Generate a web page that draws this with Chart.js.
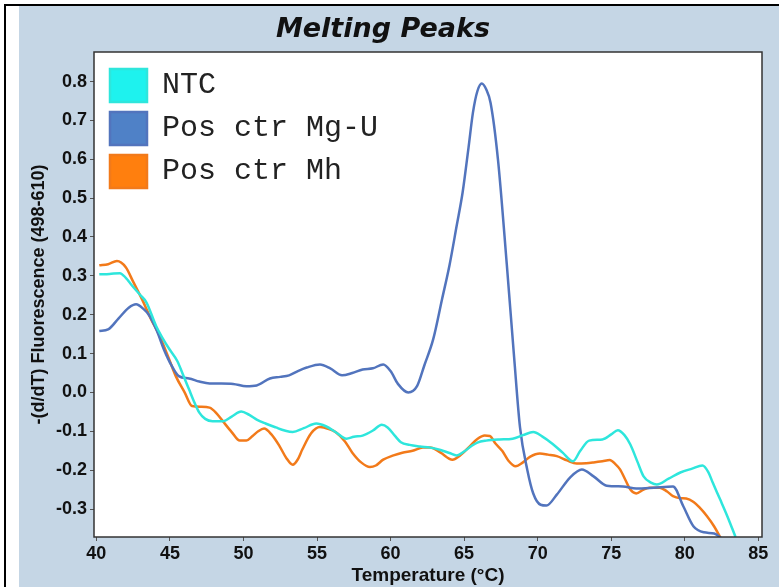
<!DOCTYPE html>
<html>
<head>
<meta charset="utf-8">
<script src="https://cdn.jsdelivr.net/npm/chart.js@4.4.1/dist/chart.umd.min.js"></script>
<style>
  body { margin: 0; background: #fff; }
  #frame {
    position: absolute; left: 4px; top: 4px; width: 775px; height: 583px;
    border-top: 2px solid #000; border-left: 2px solid #000;
  }
  #chart { position: absolute; left: 19px; top: 6px; background: #c5d6e5; }
</style>
</head>
<body>
<div id="frame"></div>
<canvas id="chart" width="760" height="581"></canvas>
<script>
const xTicks = [40, 45, 50, 55, 60, 65, 70, 75, 80, 85];
const yTicks = [-0.3, -0.2, -0.1, 0.0, 0.1, 0.2, 0.3, 0.4, 0.5, 0.6, 0.7, 0.8];

const ntcTemp = [40.2, 40.9, 41.6, 42.0, 42.45, 43.0, 43.4, 44.06, 44.5, 44.97, 45.5, 45.9, 46.3, 46.6, 47.0, 47.4, 47.9, 48.6, 49.2, 49.85,
  50.4, 50.9, 51.5, 52.2, 52.8, 53.35, 54.1, 54.95, 55.6, 56.3, 57.0, 57.5, 58.1, 58.8, 59.4, 59.8, 60.3, 60.7, 61.3, 62.0,
  62.7, 63.4, 64.0, 64.5, 65.0, 65.5, 65.9, 66.5, 67.4, 68.3, 69.0, 69.7, 70.3, 71.0, 71.7, 72.4, 72.9, 73.5, 74.4, 75.0,
  75.45, 75.9, 76.3, 76.8, 77.2, 77.7, 78.1, 78.9, 79.7, 80.5, 81.2, 81.6, 81.9, 82.4, 82.9, 83.45];
const ntcValues = [0.304, 0.305, 0.307, 0.295, 0.274, 0.25, 0.232, 0.171, 0.14, 0.111, 0.081, 0.045, 0.008, -0.02, -0.052, -0.068, -0.074, -0.074, -0.062, -0.049,
  -0.058, -0.07, -0.08, -0.09, -0.098, -0.102, -0.092, -0.08, -0.087, -0.103, -0.119, -0.114, -0.111, -0.098, -0.083, -0.09, -0.112, -0.128, -0.135, -0.139,
  -0.142, -0.148, -0.156, -0.162, -0.152, -0.138, -0.129, -0.124, -0.121, -0.119, -0.11, -0.102, -0.113, -0.132, -0.155, -0.177, -0.15, -0.124, -0.121, -0.108,
  -0.097, -0.11, -0.134, -0.18, -0.216, -0.232, -0.237, -0.222, -0.206, -0.196, -0.188, -0.205, -0.232, -0.275, -0.319, -0.372];

const mgTemp = [40.2, 40.8, 41.5, 42.2, 42.7, 43.2, 43.6, 44.1, 44.6, 45.1, 45.6, 46.3, 47.0, 47.7, 48.5, 49.3, 50.2, 50.9, 51.8, 52.5,
  53.1, 53.7, 54.3, 55.2, 55.9, 56.7, 57.4, 58.1, 58.8, 59.5, 60.0, 60.5, 61.2, 61.8, 62.3, 62.9, 63.5, 64.0, 64.5, 64.9,
  65.3, 65.6, 65.9, 66.2, 66.5, 66.8, 67.3, 67.9, 68.4, 68.8, 69.3, 69.7, 70.2, 70.6, 71.3, 72.2, 73.0, 73.8, 74.7, 75.8,
  76.7, 77.9, 79.2, 79.9, 80.6, 81.3, 82.0, 82.5];
const mgValues = [0.158, 0.162, 0.19, 0.218, 0.227, 0.215, 0.198, 0.16, 0.11, 0.07, 0.042, 0.036, 0.028, 0.023, 0.023, 0.022, 0.016, 0.018, 0.036, 0.04,
  0.044, 0.055, 0.064, 0.072, 0.062, 0.044, 0.05, 0.059, 0.062, 0.072, 0.055, 0.022, 0.0, 0.016, 0.07, 0.137, 0.24, 0.326, 0.43, 0.515,
  0.63, 0.72, 0.775, 0.795, 0.78, 0.745, 0.6, 0.33, 0.09, -0.09, -0.2, -0.26, -0.289, -0.291, -0.263, -0.219, -0.198, -0.216, -0.24, -0.242,
  -0.247, -0.245, -0.242, -0.293, -0.345, -0.36, -0.363, -0.375];

const mhTemp = [40.2, 40.8, 41.4, 42.0, 42.5, 43.1, 43.7, 44.3, 44.9, 45.4, 46.0, 46.5, 47.1, 47.7, 48.2, 48.6, 49.2, 49.75, 50.2, 50.6,
  51.0, 51.4, 51.9, 52.45, 52.9, 53.35, 53.7, 54.0, 54.6, 55.2, 55.8, 56.3, 56.9, 57.4, 58.0, 58.6, 59.0, 59.5, 60.2, 60.8,
  61.5, 62.2, 62.7, 63.4, 64.2, 64.8, 65.4, 65.9, 66.4, 66.75, 67.1, 67.6, 68.0, 68.5, 69.0, 69.5, 70.15, 70.7, 71.3, 72.0,
  72.65, 73.3, 73.8, 74.4, 74.9, 75.3, 75.6, 76.0, 76.3, 76.7, 77.2, 77.6, 78.3, 78.8, 79.2, 79.7, 80.1, 80.6, 81.0, 81.5,
  82.0, 82.4];
const mhValues = [0.327, 0.33, 0.338, 0.322, 0.285, 0.24, 0.19, 0.145, 0.09, 0.042, 0.0, -0.035, -0.037, -0.039, -0.055, -0.074, -0.102, -0.124, -0.124, -0.113,
  -0.1, -0.093, -0.108, -0.138, -0.168, -0.186, -0.172, -0.147, -0.105, -0.089, -0.094, -0.103, -0.126, -0.155, -0.18, -0.192, -0.188, -0.173, -0.162, -0.155,
  -0.15, -0.142, -0.142, -0.155, -0.173, -0.16, -0.138, -0.12, -0.111, -0.112, -0.13, -0.151, -0.175, -0.19, -0.18, -0.165, -0.157, -0.16, -0.164, -0.175,
  -0.183, -0.182, -0.18, -0.177, -0.174, -0.185, -0.198, -0.228, -0.25, -0.26, -0.25, -0.245, -0.245, -0.255, -0.267, -0.272, -0.273, -0.282, -0.296, -0.318,
  -0.345, -0.372];

const toPoints = (xs, ys) => xs.map((x, i) => ({ x: x, y: ys[i] }));

const plotBackground = {
  id: "plotBackground",
  beforeDraw(chart) {
    const { ctx, chartArea } = chart;
    ctx.save();
    ctx.fillStyle = "#ffffff";
    ctx.fillRect(chartArea.left, chartArea.top, chartArea.width, chartArea.height);
    ctx.restore();
  },
  afterDraw(chart) {
    const { ctx, chartArea } = chart;
    ctx.save();
    ctx.strokeStyle = "#333333";
    ctx.lineWidth = 1.5;
    ctx.strokeRect(chartArea.left, chartArea.top, chartArea.width, chartArea.height);
    ctx.restore();
  },
};

// the vertical legend starts at y=0 of the canvas, put it in the plot corner
const legendOffset = {
  id: "legendOffset",
  afterLayout(chart) {
    chart.legend.left = chart.chartArea.left + 6;
    chart.legend.top = chart.chartArea.top + 7;
  },
};

const tickFont = { family: "'Liberation Sans', Arial, sans-serif", size: 18, weight: "bold" };

new Chart(document.getElementById("chart"), {
  type: "line",
  data: {
    datasets: [
      {
        label: "NTC",
        data: toPoints(ntcTemp, ntcValues),
        borderColor: "#2ee6dc",
        backgroundColor: "#1ef2ee",
      },
      {
        label: "Pos ctr Mg-U",
        data: toPoints(mgTemp, mgValues),
        borderColor: "#5274bd",
        backgroundColor: "#4f81c7",
      },
      {
        label: "Pos ctr Mh",
        data: toPoints(mhTemp, mhValues),
        borderColor: "#f27a1a",
        backgroundColor: "#ff7f0e",
      },
    ],
  },
  options: {
    responsive: false,
    animation: false,
    devicePixelRatio: 1,
    layout: { padding: { left: -15, right: 17, top: 0, bottom: 0 } },
    elements: {
      point: { radius: 0 },
      line: { borderWidth: 2.5, cubicInterpolationMode: "monotone" },
    },
    plugins: {
      title: {
        display: true,
        text: "Melting Peaks",
        color: "#111",
        font: { family: "'DejaVu Sans', sans-serif", size: 27, weight: "bold", style: "italic" },
        padding: { top: 8, bottom: 5.6 },
      },
      legend: {
        position: "chartArea",
        align: "start",
        labels: {
          boxWidth: 37,
          boxHeight: 33,
          padding: 10,
          color: "#222",
          font: { family: "'Liberation Mono', 'Courier New', monospace", size: 30 },
        },
      },
      tooltip: { enabled: false },
    },
    scales: {
      x: {
        type: "linear",
        min: 39.84,
        max: 85.25,
        afterBuildTicks: (scale) => { scale.ticks = xTicks.map((v) => ({ value: v })); },
        afterFit: (scale) => { scale.height = 50; },
        grid: { drawOnChartArea: false, tickLength: 4, color: "#555" },
        border: { display: false },
        ticks: { font: tickFont, color: "#111", padding: 2, maxRotation: 0 },
        title: {
          display: true,
          text: "Temperature (°C)",
          color: "#111",
          font: { family: "'Liberation Sans', Arial, sans-serif", size: 19, weight: "bold" },
          padding: { top: 0, bottom: 0 },
        },
      },
      y: {
        min: -0.372,
        max: 0.876,
        afterBuildTicks: (scale) => { scale.ticks = yTicks.map((v) => ({ value: v })); },
        afterFit: (scale) => { scale.width = 90; },
        grid: { drawOnChartArea: false, tickLength: 4, color: "#555" },
        border: { display: false },
        ticks: { font: tickFont, color: "#111", padding: 3, callback: (v) => v.toFixed(1) },
        title: {
          display: true,
          text: "-(d/dT) Fluorescence (498-610)",
          color: "#111",
          font: { family: "'Liberation Sans', Arial, sans-serif", size: 18, weight: "bold" },
          padding: { top: 24, bottom: 0 },
        },
      },
    },
  },
  plugins: [plotBackground, legendOffset],
});
</script>
</body>
</html>
